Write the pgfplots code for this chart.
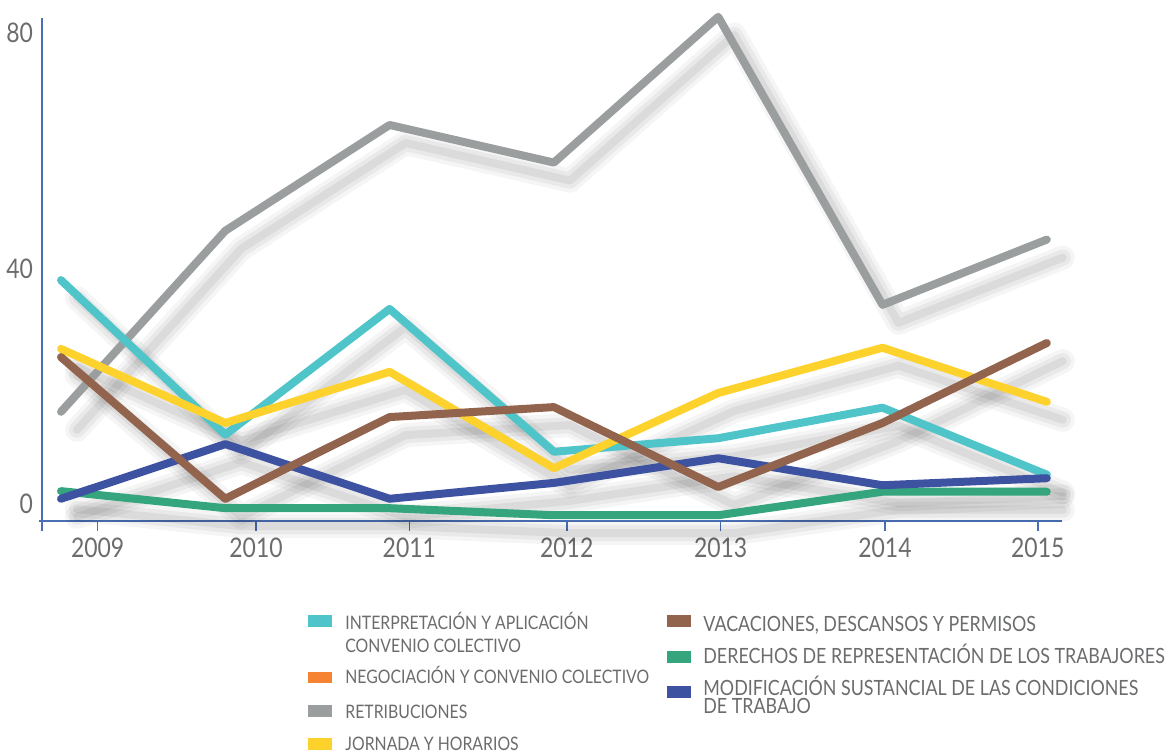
\documentclass[border=0pt]{standalone}
\usepackage{fontspec}
\setmainfont{Lato}[FakeStretch=0.85]
\usepackage{pgfplots}
\usepackage{pgfplotstable}
\pgfplotsset{compat=1.18}

\definecolor{cInterp}{HTML}{4FC4C9}
\definecolor{cNegoc}{HTML}{F58332}
\definecolor{cRetri}{HTML}{9B9E9E}
\definecolor{cJorn}{HTML}{FDD22C}
\definecolor{cVacac}{HTML}{93644D}
\definecolor{cDerech}{HTML}{34A57C}
\definecolor{cModif}{HTML}{3D53A2}
\definecolor{axisblue}{HTML}{4A6FB5}
\definecolor{labelgray}{HTML}{6B6C6E}

% x = 0..6 for 2009..2015
\pgfplotstableread{
x y
0 38.0
1 11.7
2 33.1
3 8.8
4 11.1
5 16.3
6 4.9
}\interp
\pgfplotstableread{
x y
0 15.6
1 46.4
2 64.4
3 58.0
4 82.8
5 33.8
6 44.9
}\retri
\pgfplotstableread{
x y
0 26.3
1 13.7
2 22.4
3 6.0
4 18.8
5 26.5
6 17.3
}\jorn
\pgfplotstableread{
x y
0 24.9
1 0.8
2 14.7
3 16.4
4 2.8
5 13.7
6 27.3
}\vacac
\pgfplotstableread{
x y
0 2.1
1 -0.8
2 -0.8
3 -2.0
4 -2.0
5 2.0
6 2.0
}\derech
\pgfplotstableread{
x y
0 0.8
1 10.1
2 0.8
3 3.5
4 7.7
5 3.1
6 4.3
}\modif

\pgfplotsset{shad/.style={forget plot, black, line join=round, line cap=round, xshift=8pt, yshift=-9pt}}
\newcommand{\shadow}[1]{%
  \addplot[shad, opacity=0.04, line width=12pt] table {#1};
  \addplot[shad, opacity=0.05, line width=8pt] table {#1};
  \addplot[shad, opacity=0.06, line width=4pt] table {#1};
}

\begin{document}
\begin{tikzpicture}[x=1pt,y=1pt]
\useasboundingbox (-21,-116) rectangle (564,260.5);
\begin{axis}[
    at={(0,0)}, anchor=south west,
    scale only axis,
    width=510pt, height=251.5pt,
    xmin=-0.1156, xmax=6.0925,
    ymin=-2.98, ymax=82.6,
    axis lines=left,
    axis line style={draw=axisblue, line width=0.8pt, -},
    y axis line style={shorten <=-5pt},
    x axis line style={shorten <=-1.5pt},
    clip=false,
    tick align=outside,
    major tick length=5pt,
    xtick={0.223,1.187,2.120,3.078,4.015,5.015,5.945},
    xticklabels={2009,2010,2011,2012,2013,2014,2015},
    xtick style={draw=axisblue, line width=0.8pt},
    ytick={0,40,80},
    ytick style={draw=none},
    yticklabel style={xshift=4pt},
    tick label style={font=\fontsize{13.5}{15}\selectfont, text=labelgray},
    /pgf/number format/assume math mode=true,
]
\shadow{\retri}
\shadow{\interp}
\shadow{\jorn}
\shadow{\derech}
\shadow{\modif}
\shadow{\vacac}
\addplot[cRetri, line width=4pt, line join=round, line cap=round] table {\retri};
\addplot[cInterp, line width=4pt, line join=round, line cap=round] table {\interp};
\addplot[cJorn, line width=4pt, line join=round, line cap=round] table {\jorn};
\addplot[cDerech, line width=4pt, line join=round, line cap=round] table {\derech};
\addplot[cModif, line width=4pt, line join=round, line cap=round] table {\modif};
\addplot[cVacac, line width=4pt, line join=round, line cap=round] table {\vacac};
\end{axis}

% legend
\fill[cInterp] (133,-53) rectangle (145,-47);
\fill[cNegoc]  (133,-81) rectangle (145,-75.5);
\fill[cRetri]  (133,-98) rectangle (145,-92);
\fill[cJorn]   (133,-114.5) rectangle (145,-108.5);
\fill[cVacac]  (312.5,-53) rectangle (324.5,-47);
\fill[cDerech] (312.5,-71) rectangle (324.5,-65);
\fill[cModif]  (312.5,-88.5) rectangle (324.5,-82.5);
\begin{scope}[every node/.style={anchor=base west, inner sep=0pt, text=labelgray, font=\fontsize{9.3}{11}\selectfont}]
\node at (151.5,-54) {INTERPRETACIÓN Y APLICACIÓN};
\node at (151.5,-65.5) {CONVENIO COLECTIVO};
\node at (151.5,-81) {NEGOCIACIÓN Y CONVENIO COLECTIVO};
\node at (151.5,-98.5) {RETRIBUCIONES};
\node at (151.5,-114.5) {JORNADA Y HORARIOS};
\end{scope}
\begin{scope}[every node/.style={anchor=base west, inner sep=0pt, text=labelgray, font=\fontsize{10.5}{12}\selectfont}]
\node at (330.5,-55.5) {VACACIONES, DESCANSOS Y PERMISOS};
\node at (330.5,-71) {DERECHOS DE REPRESENTACIÓN DE LOS TRABAJORES};
\node at (330.5,-87) {MODIFICACIÓN SUSTANCIAL DE LAS CONDICIONES};
\node at (330.5,-96) {DE TRABAJO};
\end{scope}
\end{tikzpicture}
\end{document}
